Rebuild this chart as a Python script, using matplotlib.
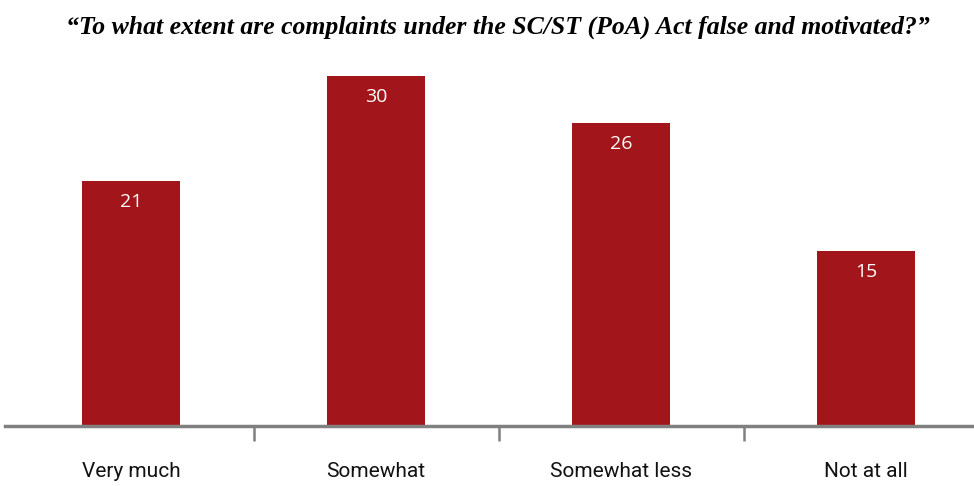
import numpy as np
import matplotlib.pyplot as plt

categories = ["Very much", "Somewhat", "Somewhat less", "Not at all"]
values = [21, 30, 26, 15]
title = "\u201cTo what extent are complaints under the SC/ST (PoA) Act false and motivated?\u201d"

bar_color = "#a2151a"
axis_color = "#808080"

fig = plt.figure(figsize=(9.74, 4.86), dpi=100)
ax = fig.add_axes([5 / 974, 60 / 486, 969 / 974, 371 / 486])

x = np.arange(len(categories))
bars = ax.bar(x, values, width=0.4, color=bar_color, zorder=2)

for rect, v in zip(bars, values):
    ax.annotate(str(v), (rect.get_x() + rect.get_width() / 2, v),
                xytext=(0, -15), textcoords="offset points",
                ha="center", va="center", color="white",
                fontsize=14, family="Open Sans")

ax.set_xlim(-0.515, 3.44)
ax.set_ylim(0, 371 / 11.65)

# baseline with ticks between the groups
for s in ["top", "right", "left"]:
    ax.spines[s].set_visible(False)
ax.spines["bottom"].set_color(axis_color)
ax.spines["bottom"].set_linewidth(2.5)
ax.set_yticks([])
ax.set_xticks([0.5, 1.5, 2.5])
ax.set_xticklabels([])
ax.tick_params(axis="x", which="major", length=11, width=1.8, color=axis_color,
               direction="out")
ax.set_xticks(x, minor=True)
ax.set_xticklabels(categories, minor=True, fontsize=15, family="Roboto",
                   color="#111111")
ax.tick_params(axis="x", which="minor", length=0, pad=26)

fig.text(0.511, 1 - 27 / 486, title, ha="center", va="center",
         fontsize=18.5, family="Liberation Serif", style="italic", weight="bold")

fig.savefig("out.png", dpi=100)
